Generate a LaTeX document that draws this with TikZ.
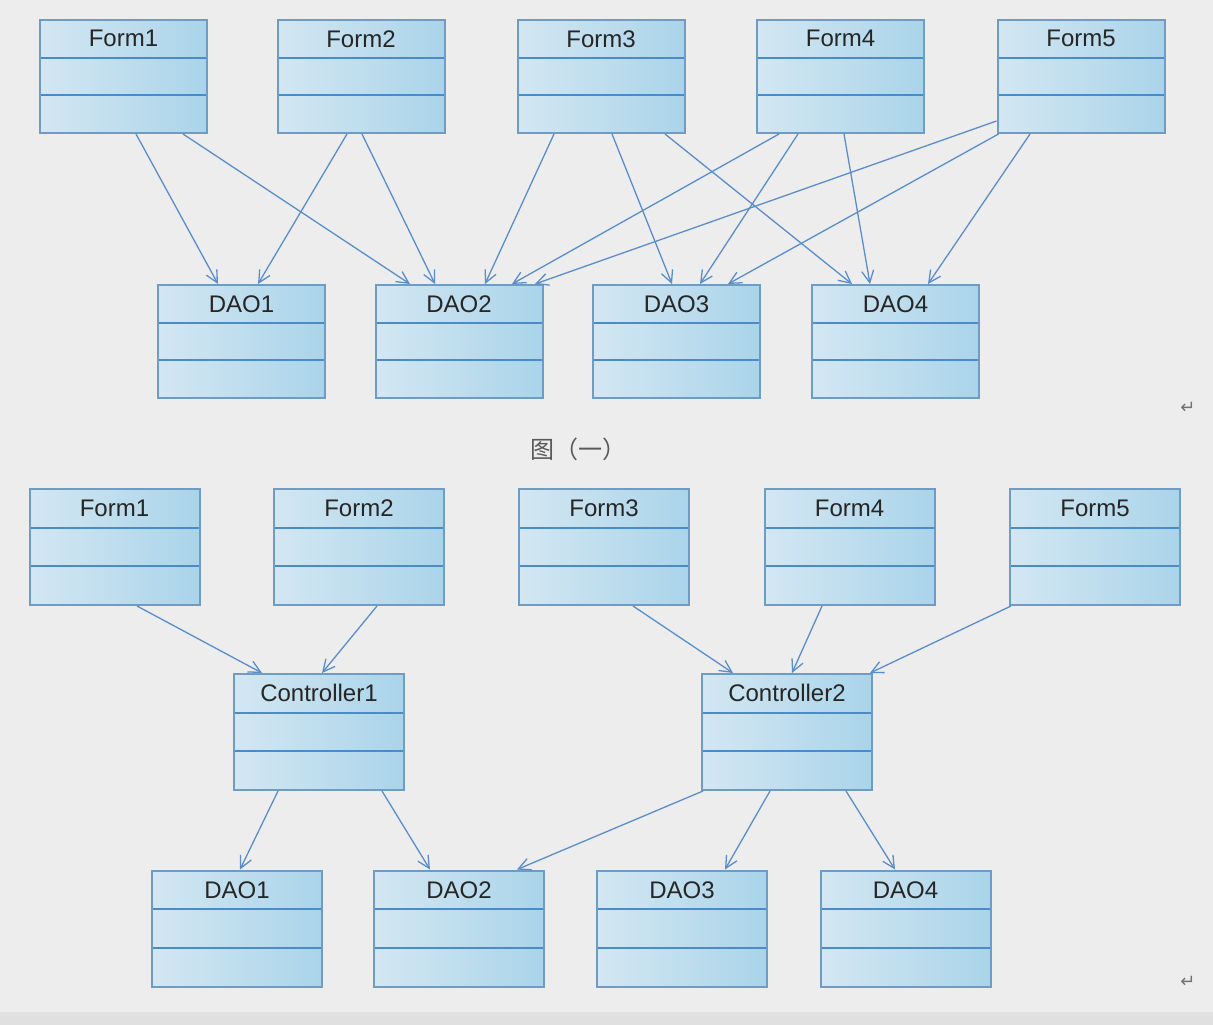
\documentclass[tikz,border=0pt]{standalone}
\usepackage{fontspec}
\setmainfont{Liberation Sans}
\newfontfamily\cjk{Noto Sans CJK SC}
\newfontfamily\symfont{DejaVu Sans}
\usetikzlibrary{arrows.meta,calc}

\definecolor{bgcol}{HTML}{EDEDED}
\definecolor{boxline}{HTML}{6F9CC4}
\definecolor{splitline}{HTML}{4A8CCB}
\definecolor{boxlight}{HTML}{D3E7F2}
\definecolor{boxdark}{HTML}{AAD4EA}
\definecolor{deparrow}{HTML}{5A8DCC}

\tikzset{
  umlbox/.style={draw=boxline, line width=2pt, left color=boxlight, right color=boxdark,
    inner sep=0pt,
    path picture={
      \draw[splitline, line width=2.2pt]
        ($(path picture bounding box.north west)!1/3!(path picture bounding box.south west)$) --
        ($(path picture bounding box.north east)!1/3!(path picture bounding box.south east)$)
        ($(path picture bounding box.north west)!2/3!(path picture bounding box.south west)$) --
        ($(path picture bounding box.north east)!2/3!(path picture bounding box.south east)$);
    }},
  boxtitle/.style={font=\fontsize{24}{29}\selectfont, text=black!85, inner sep=0pt},
  topbox/.style={umlbox, minimum width=167pt, minimum height=113pt,
    label={[boxtitle, yshift=37.7pt]center:#1}},
  botbox/.style={umlbox, minimum width=170pt, minimum height=116pt,
    label={[boxtitle, yshift=38.7pt]center:#1}},
  dep/.style={draw=deparrow, line width=1.3pt, -{Straight Barb[length=12pt,width=12pt]}},
  retmark/.style={font=\symfont\fontsize{18}{20}\selectfont, text=black!55}
}

\begin{document}
\begin{tikzpicture}[x=1pt,y=-1pt]
\useasboundingbox (0,0) rectangle (1213,1025);
\fill[bgcol] (0,0) rectangle (1213,1025);
\fill[black!12] (0,1012) rectangle (1213,1025);

% figure one
\node[topbox=Form1] (a1) at (123.5,76.5) {};
\node[topbox=Form2] (a2) at (361,76.5) {};
\node[topbox=Form3] (a3) at (601,76.5) {};
\node[topbox=Form4] (a4) at (840.5,76.5) {};
\node[topbox=Form5] (a5) at (1081,76.5) {};
\node[topbox=DAO1] (ad1) at (241.5,341.5) {};
\node[topbox=DAO2] (ad2) at (459,341.5) {};
\node[topbox=DAO3] (ad3) at (676.5,341.5) {};
\node[topbox=DAO4] (ad4) at (895.5,341.5) {};

\draw[dep] ([xshift=12.5pt]a1.south) -- ([xshift=-23.5pt]ad1.north);
\draw[dep] ([xshift=59.5pt]a1.south) -- ([xshift=-49pt]ad2.north);
\draw[dep] ([xshift=-14pt]a2.south) -- ([xshift=16.5pt]ad1.north);
\draw[dep] ([xshift=1pt]a2.south) -- ([xshift=-24pt]ad2.north);
\draw[dep] ([xshift=-47pt]a3.south) -- ([xshift=26pt]ad2.north);
\draw[dep] ([xshift=11pt]a3.south) -- ([xshift=-4.5pt]ad3.north);
\draw[dep] ([xshift=64pt]a3.south) -- ([xshift=-43.5pt]ad4.north);
\draw[dep] ([xshift=-61.5pt]a4.south) -- ([xshift=53pt]ad2.north);
\draw[dep] ([xshift=-42.5pt]a4.south) -- ([xshift=23.5pt]ad3.north);
\draw[dep] ([xshift=3.5pt]a4.south) -- ([xshift=-25.5pt]ad4.north);
\draw[dep] ([yshift=-44.5pt]a5.west) -- ([xshift=76pt]ad2.north);
\draw[dep] ([xshift=2pt]a5.south west) -- ([xshift=51.5pt]ad3.north);
\draw[dep] ([xshift=-51pt]a5.south) -- ([xshift=32.5pt]ad4.north);

\node[retmark] (ret1) at (1188,408) {↵};
\node[font=\cjk\fontsize{24}{28}\selectfont, text=black!65] (cap1) at (578,449) {图（一）};

% figure two
\node[botbox=Form1] (b1) at (114.5,547) {};
\node[botbox=Form2] (b2) at (359,547) {};
\node[botbox=Form3] (b3) at (604,547) {};
\node[botbox=Form4] (b4) at (849.5,547) {};
\node[botbox=Form5] (b5) at (1095,547) {};
\node[botbox=Controller1] (c1) at (319,732) {};
\node[botbox=Controller2] (c2) at (787,732) {};
\node[botbox=DAO1] (bd1) at (237,928.5) {};
\node[botbox=DAO2] (bd2) at (459,928.5) {};
\node[botbox=DAO3] (bd3) at (682,928.5) {};
\node[botbox=DAO4] (bd4) at (905.5,928.5) {};

\draw[dep] ([xshift=22.5pt]b1.south) -- ([xshift=-57pt]c1.north);
\draw[dep] ([xshift=18pt]b2.south) -- ([xshift=3pt]c1.north);
\draw[dep] ([xshift=29pt]b3.south) -- ([xshift=-54pt]c2.north);
\draw[dep] ([xshift=-27.5pt]b4.south) -- ([xshift=5pt]c2.north);
\draw[dep] ([xshift=2pt]b5.south west) -- ([xshift=-3pt]c2.north east);
\draw[dep] ([xshift=-41pt]c1.south) -- ([xshift=3pt]bd1.north);
\draw[dep] ([xshift=63pt]c1.south) -- ([xshift=-29pt]bd2.north);
\draw[dep] ([xshift=2pt]c2.south west) -- ([xshift=58pt]bd2.north);
\draw[dep] ([xshift=-17pt]c2.south) -- ([xshift=43pt]bd3.north);
\draw[dep] ([xshift=59pt]c2.south) -- ([xshift=-10.5pt]bd4.north);

\node[retmark] (ret2) at (1188,982) {↵};
\end{tikzpicture}
\end{document}
